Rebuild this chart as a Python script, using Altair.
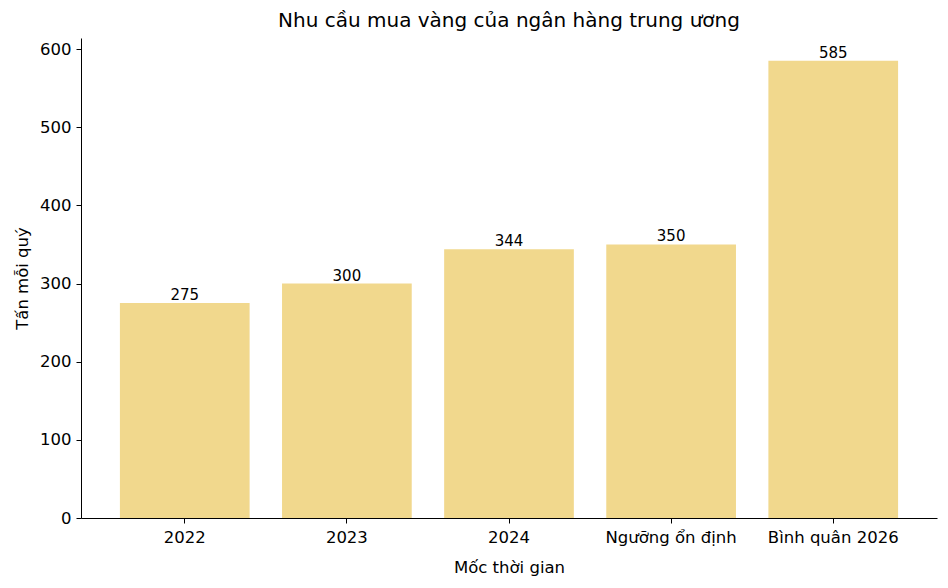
import altair as alt
import pandas as pd

categories = ["2022", "2023", "2024", "Ngưỡng ổn định", "Bình quân 2026"]
values = [275, 300, 344, 350, 585]

df = pd.DataFrame({"cat": categories, "val": values})

FONT = "DejaVu Sans"
LS = 16.5

x = alt.X("cat:N", sort=categories, title="Mốc thời gian",
          scale=alt.Scale(paddingInner=0.2, paddingOuter=0.24),
          axis=alt.Axis(labelAngle=0, labelFontSize=LS, titleFontSize=LS,
                        labelColor="black", titleColor="black", domainColor="black",
                        tickColor="black", tickSize=5, labelPadding=6, titlePadding=14,
                        labelFont=FONT, titleFont=FONT, titleFontWeight="normal"))
y = alt.Y("val:Q", title="Tấn mỗi quý",
          scale=alt.Scale(domain=[0, 614.25], nice=False),
          axis=alt.Axis(values=[0, 100, 200, 300, 400, 500, 600], grid=False,
                        labelFontSize=LS, titleFontSize=LS, labelColor="black",
                        titleColor="black", domainColor="black", tickColor="black",
                        tickSize=5, labelPadding=5, titlePadding=9,
                        labelFont=FONT, titleFont=FONT, titleFontWeight="normal"))

bars = alt.Chart(df).mark_bar(color="#F1D88D").encode(x=x, y=y)
text = alt.Chart(df).mark_text(baseline="bottom", dy=0, fontSize=15, font=FONT,
                               color="black").encode(
    x=alt.X("cat:N", sort=categories), y="val:Q", text="val:Q")

chart = (bars + text).properties(
    width=856, height=480,
    title=alt.TitleParams("Nhu cầu mua vàng của ngân hàng trung ương",
                          fontSize=20, font=FONT, fontWeight="normal",
                          color="black", anchor="middle", offset=7),
    autosize=alt.AutoSizeParams(type="none"),
    padding={"left": 73, "top": 30, "right": 3, "bottom": 62},
).configure(background="white").configure_view(stroke=None, strokeWidth=0)

chart.save("out.html", embed_options={"renderer": "svg", "actions": False})
